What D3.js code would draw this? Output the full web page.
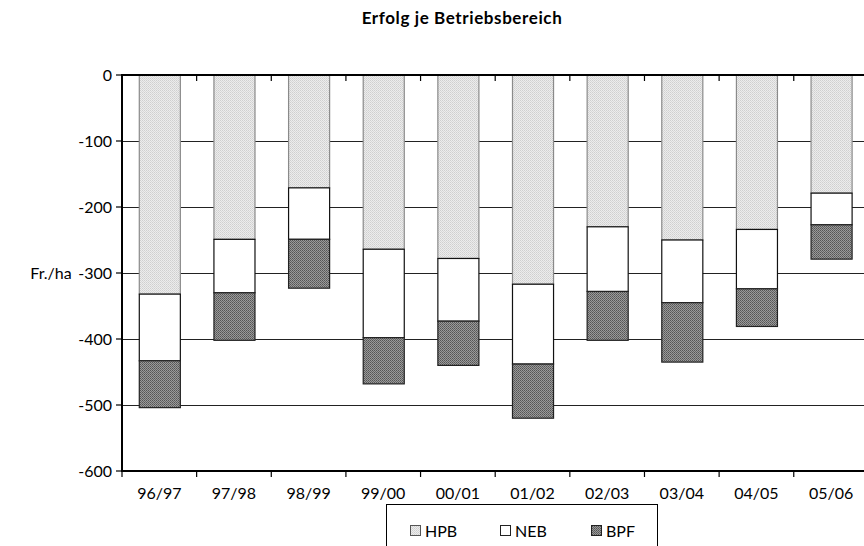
<!DOCTYPE html>
<html>
<head>
<meta charset="utf-8">
<script src="https://cdn.jsdelivr.net/npm/d3@7"></script>
<style>
  body { margin: 0; background: #fff; }
  svg { display: block; font-family: Lato, "Open Sans", sans-serif; }
</style>
</head>
<body>
<svg id="chart" width="864" height="546"></svg>
<script>
// Daten (Fr./ha)
const jahre = ["96/97", "97/98", "98/99", "99/00", "00/01", "01/02", "02/03", "03/04", "04/05", "05/06"];
const hpb = [-332, -249, -171, -264, -278, -317, -230, -250, -234, -179];
const neb = [-101, -81, -78, -134, -95, -121, -98, -95, -90, -48];
const bpf = [-71, -72, -74, -70, -67, -82, -74, -90, -57, -52];
const serien = ["HPB", "NEB", "BPF"];
const yTicks = [0, -100, -200, -300, -400, -500, -600];

const rows = jahre.map((j, i) => ({ jahr: j, HPB: hpb[i], NEB: neb[i], BPF: bpf[i] }));

const svg = d3.select("#chart");
const m = { left: 122, right: 868.4, top: 75, bottom: 471 };

// Muster für die Füllungen
const defs = svg.append("defs");
const hp = defs.append("pattern").attr("id", "pHPB").attr("width", 2).attr("height", 2)
  .attr("patternUnits", "userSpaceOnUse");
hp.append("rect").attr("width", 2).attr("height", 2).attr("fill", "#ececec");
hp.append("rect").attr("width", 1).attr("height", 1).attr("fill", "#cfcfcf");
hp.append("rect").attr("x", 1).attr("y", 1).attr("width", 1).attr("height", 1).attr("fill", "#d8d8d8");

const bp = defs.append("pattern").attr("id", "pBPF").attr("width", 2).attr("height", 2)
  .attr("patternUnits", "userSpaceOnUse");
bp.append("rect").attr("width", 2).attr("height", 2).attr("fill", "#9a9a9a");
bp.append("rect").attr("width", 1).attr("height", 1).attr("fill", "#555");
bp.append("rect").attr("x", 1).attr("y", 1).attr("width", 1).attr("height", 1).attr("fill", "#666");

const fill = { HPB: "url(#pHPB)", NEB: "#fff", BPF: "url(#pBPF)" };
const stroke = { HPB: "#8a8a8a", NEB: "#111", BPF: "#222" };

const x = d3.scaleBand().domain(jahre).range([m.left, m.right])
  .paddingInner(0.45).paddingOuter(0.225);
const y = d3.scaleLinear().domain([-600, 0]).range([m.bottom, m.top]);
const step = x.step();

// Titel
svg.append("text").attr("x", 462).attr("y", 24).attr("text-anchor", "middle")
  .attr("font-size", 17).attr("font-weight", "bold").attr("letter-spacing", 0.6)
  .text("Erfolg je Betriebsbereich");

// Gitterlinien
svg.append("g").selectAll("line").data(yTicks.filter(d => d > -600 && d < 0)).join("line")
  .attr("x1", m.left).attr("x2", 864)
  .attr("y1", d => Math.round(y(d)) + 0.5).attr("y2", d => Math.round(y(d)) + 0.5)
  .attr("stroke", "#222").attr("stroke-width", 1);

// Balken
const stack = d3.stack().keys(serien).offset(d3.stackOffsetDiverging);
const layers = stack(rows);

svg.append("g").selectAll("g").data(layers).join("g")
  .attr("fill", d => fill[d.key]).attr("stroke", d => stroke[d.key])
  .selectAll("rect").data(d => d).join("rect")
  .attr("x", d => x(d.data.jahr) + 0.5)
  .attr("y", d => y(d[1]))
  .attr("width", x.bandwidth())
  .attr("height", d => y(d[0]) - y(d[1]))
  .attr("stroke-width", 1.2);

// Achsen
const ax = svg.append("g").attr("stroke", "#000");
ax.append("line").attr("x1", m.left).attr("x2", 864).attr("y1", y(0)).attr("y2", y(0)).attr("stroke-width", 2);
ax.append("line").attr("x1", m.left).attr("x2", 864).attr("y1", y(-600)).attr("y2", y(-600)).attr("stroke-width", 2);
ax.append("line").attr("x1", m.left).attr("x2", m.left).attr("y1", y(0) - 1).attr("y2", y(-600) + 1).attr("stroke-width", 2);

const grenzen = jahre.map(j => x(j) - step * 0.225).concat([m.right]);
ax.selectAll(".tt").data(grenzen.slice(1)).join("line")
  .attr("x1", d => d).attr("x2", d => d).attr("y1", y(0)).attr("y2", y(0) + 6).attr("stroke-width", 1.2);
ax.selectAll(".tb").data(grenzen).join("line")
  .attr("x1", d => d).attr("x2", d => d).attr("y1", y(-600)).attr("y2", y(-600) + 6).attr("stroke-width", 1.2);
ax.selectAll(".ty").data(yTicks).join("line")
  .attr("x1", m.left - 6).attr("x2", m.left).attr("y1", d => y(d)).attr("y2", d => y(d)).attr("stroke-width", 1.2);

svg.append("g").selectAll("text").data(yTicks).join("text")
  .attr("x", m.left - 10).attr("y", d => y(d)).attr("dy", "0.35em")
  .attr("text-anchor", "end").attr("font-size", 16).text(d => d);

svg.append("g").selectAll("text").data(jahre).join("text")
  .attr("x", d => x(d) + x.bandwidth() / 2).attr("y", 499)
  .attr("text-anchor", "middle").attr("font-size", 16).text(d => d);

svg.append("text").attr("x", 51).attr("y", 273).attr("dy", "0.35em")
  .attr("text-anchor", "middle").attr("font-size", 16).text("Fr./ha");

// Legende
const leg = svg.append("g");
leg.append("rect").attr("x", 386.5).attr("y", 504.5).attr("width", 271).attr("height", 50)
  .attr("fill", "#fff").attr("stroke", "#000");
const legX = [410, 500, 591];
serien.forEach((s, i) => {
  leg.append("rect").attr("x", legX[i] + 0.5).attr("y", 525.5).attr("width", 10).attr("height", 10)
    .attr("fill", fill[s]).attr("stroke", s === "HPB" ? "#555" : "#222");
  leg.append("text").attr("x", legX[i] + 15).attr("y", 537).attr("font-size", 16).text(s);
});
</script>
</body>
</html>
